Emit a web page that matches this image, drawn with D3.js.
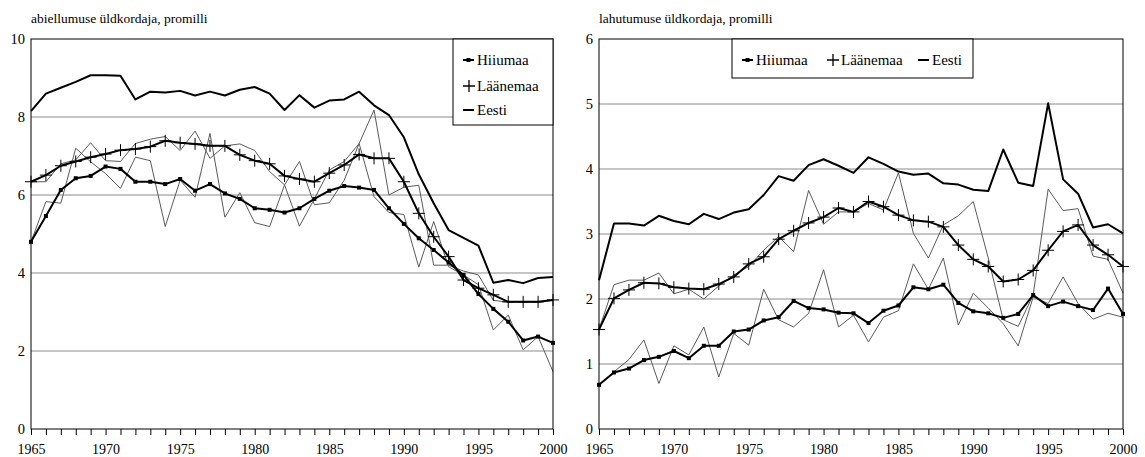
<!DOCTYPE html>
<html>
<head>
<meta charset="utf-8">
<script src="https://cdn.jsdelivr.net/npm/d3@7"></script>
<style>
  body { margin: 0; background: #fff; }
  svg text { font-family: "Liberation Serif", "Times New Roman", Tinos, "Nimbus Roman", "DejaVu Serif", serif; }
</style>
</head>
<body>
<svg id="chart" width="1145" height="457"></svg>
<script>
const years = [1965, 1966, 1967, 1968, 1969, 1970, 1971, 1972, 1973, 1974, 1975, 1976,
  1977, 1978, 1979, 1980, 1981, 1982, 1983, 1984, 1985, 1986, 1987, 1988,
  1989, 1990, 1991, 1992, 1993, 1994, 1995, 1996, 1997, 1998, 1999, 2000];
const xTickLabels = [1965, 1970, 1975, 1980, 1985, 1990, 1995, 2000];

// abiellumuse üldkordaja
const marEesti = [8.15, 8.6, 8.75, 8.9, 9.07, 9.07, 9.06, 8.45, 8.65, 8.63, 8.67, 8.55, 8.65, 8.55, 8.7, 8.77, 8.6, 8.18,
  8.56, 8.24, 8.42, 8.45, 8.65, 8.3, 8.05, 7.48, 6.53, 5.79, 5.1, 4.9, 4.7, 3.75, 3.82, 3.74, 3.87, 3.9];
const marHiiumaa = [4.8, 5.46, 6.13, 6.43, 6.49, 6.73, 6.67, 6.34, 6.34, 6.28, 6.41, 6.11, 6.28, 6.04, 5.9, 5.66, 5.62, 5.55,
  5.66, 5.9, 6.11, 6.23, 6.19, 6.13, 5.66, 5.26, 4.89, 4.59, 4.27, 3.95, 3.46, 3.08, 2.75, 2.27, 2.37, 2.21];
const marHiiumaaRaw = [4.8, 5.83, 5.79, 7.2, 6.85, 6.55, 6.17, 6.97, 6.88, 5.19, 6.38, 5.94, 7.58, 5.43, 6.06, 5.29, 5.19, 6.26,
  6.86, 5.75, 5.8, 6.38, 7.32, 5.96, 5.55, 5.5, 4.15, 5.32, 4.16, 3.95, 3.7, 2.54, 2.92, 2.03, 2.37, 1.47];
const marLaanemaa = [6.34, 6.51, 6.75, 6.86, 6.97, 7.05, 7.15, 7.18, 7.24, 7.39, 7.34, 7.31, 7.26, 7.26, 7.03, 6.88, 6.8, 6.49,
  6.41, 6.34, 6.56, 6.77, 7.04, 6.94, 6.94, 6.34, 5.53, 4.93, 4.42, 3.82, 3.61, 3.44, 3.26, 3.26, 3.26, 3.31];
const marLaanemaaRaw = [6.34, 6.34, 6.8, 6.9, 7.34, 6.88, 6.86, 7.32, 7.43, 7.5, 7.14, 7.64, 6.94, 7.26, 7.31, 7.14, 6.6, 6.26,
  5.2, 5.9, 6.64, 6.86, 7.32, 8.18, 6.0, 6.2, 6.25, 4.2, 4.2, 4.05, 3.95, 3.3, 3.25, 3.25, 3.25, 3.3];

// lahutumuse üldkordaja
const divEesti = [2.29, 3.16, 3.16, 3.13, 3.28, 3.2, 3.15, 3.31, 3.23, 3.33, 3.38, 3.6, 3.89, 3.82, 4.06, 4.15, 4.05, 3.94,
  4.18, 4.08, 3.96, 3.91, 3.93, 3.78, 3.76, 3.68, 3.66, 4.3, 3.79, 3.74, 5.01, 3.84, 3.62, 3.1, 3.15, 3.01];
const divHiiumaa = [0.68, 0.87, 0.93, 1.06, 1.11, 1.2, 1.09, 1.28, 1.28, 1.5, 1.53, 1.67, 1.72, 1.97, 1.86, 1.84, 1.79, 1.78,
  1.63, 1.82, 1.9, 2.18, 2.15, 2.22, 1.94, 1.81, 1.78, 1.71, 1.77, 2.06, 1.89, 1.96, 1.89, 1.83, 2.16, 1.77];
const divHiiumaaRaw = [0.68, 0.88, 1.07, 1.37, 0.7, 1.28, 1.14, 1.57, 0.8, 1.47, 1.29, 2.15, 1.68, 1.57, 1.78, 2.45, 1.57, 1.75,
  1.34, 1.72, 1.82, 2.54, 2.15, 2.63, 1.6, 2.09, 1.86, 1.62, 1.28, 2.03, 1.93, 2.34, 1.93, 1.69, 1.78, 1.72];
const divLaanemaa = [1.53, 2.01, 2.14, 2.25, 2.24, 2.18, 2.16, 2.15, 2.23, 2.34, 2.54, 2.65, 2.92, 3.05, 3.17, 3.26, 3.4, 3.34,
  3.5, 3.42, 3.29, 3.21, 3.19, 3.11, 2.83, 2.61, 2.5, 2.27, 2.3, 2.44, 2.75, 3.04, 3.14, 2.83, 2.68, 2.5];
const divLaanemaaRaw = [1.53, 2.22, 2.29, 2.29, 2.4, 2.08, 2.15, 2.0, 2.2, 2.37, 2.5, 2.75, 2.96, 2.73, 3.67, 3.15, 3.34, 3.34,
  3.47, 3.37, 3.94, 3.01, 2.63, 3.14, 3.28, 3.5, 2.63, 1.68, 1.58, 2.06, 3.69, 3.36, 3.39, 2.66, 2.61, 2.09];

const legendNames = ['Hiiumaa', 'Läänemaa', 'Eesti'];
const serif = '"Liberation Serif", "Times New Roman", Tinos, "Nimbus Roman", "DejaVu Serif", serif';

const svg = d3.select('#chart');

const panels = [
  {
    title: 'abiellumuse üldkordaja, promilli',
    left: 31, right: 553, top: 39, bottom: 429,
    yMax: 10, yTicks: [0, 2, 4, 6, 8, 10],
    eesti: marEesti, hiiumaa: marHiiumaa, hiiumaaRaw: marHiiumaaRaw,
    laanemaa: marLaanemaa, laanemaaRaw: marLaanemaaRaw,
    legend: { x: 453, y: 39, w: 100, h: 86, items: [[463, 60, 477], [463, 86, 477], [463, 110, 477]] }
  },
  {
    title: 'lahutumuse üldkordaja, promilli',
    left: 599, right: 1123, top: 39, bottom: 429,
    yMax: 6, yTicks: [0, 1, 2, 3, 4, 5, 6],
    eesti: divEesti, hiiumaa: divHiiumaa, hiiumaaRaw: divHiiumaaRaw,
    laanemaa: divLaanemaa, laanemaaRaw: divLaanemaaRaw,
    legend: { x: 732, y: 39, w: 241, h: 39, items: [[742, 60, 756], [827, 60, 841], [918, 60, 932]] }
  }
];

function plusPath(cx, cy, r) {
  return `M${cx - r},${cy}H${cx + r}M${cx},${cy - r}V${cy + r}`;
}

panels.forEach(p => {
  const x = d3.scaleLinear().domain([1965, 2000]).range([p.left, p.right]);
  const y = d3.scaleLinear().domain([0, p.yMax]).range([p.bottom, p.top]);
  const g = svg.append('g');

  g.append('text')
    .attr('x', p.left)
    .attr('y', 23)
    .attr('font-family', serif)
    .attr('font-size', 13.5)
    .text(p.title);

  // ruudustik
  g.append('g').selectAll('line')
    .data(p.yTicks.filter(v => v > 0 && v < p.yMax))
    .join('line')
    .attr('x1', p.left).attr('x2', p.right)
    .attr('y1', d => y(d)).attr('y2', d => y(d))
    .attr('stroke', '#8a8a8a')
    .attr('stroke-width', 1);

  const xAxis = d3.axisBottom(x)
    .tickValues(years)
    .tickSize(6)
    .tickPadding(9)
    .tickFormat(d => xTickLabels.includes(d) ? String(d) : '');

  const xg = g.append('g')
    .attr('transform', `translate(0,${p.bottom})`)
    .call(xAxis);
  xg.attr('font-family', serif);
  xg.select('.domain').remove();
  xg.selectAll('line').attr('stroke', '#000');
  xg.selectAll('text').attr('font-size', 14).attr('fill', '#000');

  const yAxis = d3.axisLeft(y).tickValues(p.yTicks).tickSize(0).tickPadding(6).tickFormat(d3.format('d'));
  const yg = g.append('g')
    .attr('transform', `translate(${p.left},0)`)
    .call(yAxis);
  yg.attr('font-family', serif);
  yg.select('.domain').remove();
  yg.selectAll('text').attr('font-size', 14.5).attr('fill', '#000');

  const line = d3.line().x((d, i) => x(years[i])).y(d => y(d));

  // aastased väärtused
  [p.hiiumaaRaw, p.laanemaaRaw].forEach(s => {
    g.append('path').datum(s)
      .attr('d', line)
      .attr('fill', 'none')
      .attr('stroke', '#5a5a5a')
      .attr('stroke-width', 1);
  });

  [p.eesti, p.laanemaa, p.hiiumaa].forEach(s => {
    g.append('path').datum(s)
      .attr('d', line)
      .attr('fill', 'none')
      .attr('stroke', '#000')
      .attr('stroke-width', 2)
      .attr('stroke-linejoin', 'round');
  });

  g.append('g').selectAll('path')
    .data(p.laanemaa)
    .join('path')
    .attr('d', (d, i) => plusPath(x(years[i]), y(d), 6))
    .attr('stroke', '#000')
    .attr('stroke-width', 1);

  g.append('g').selectAll('rect')
    .data(p.hiiumaa)
    .join('rect')
    .attr('x', (d, i) => x(years[i]) - 2)
    .attr('y', d => y(d) - 2)
    .attr('width', 4).attr('height', 4)
    .attr('fill', '#000');

  // raam
  g.append('rect')
    .attr('x', p.left).attr('y', p.top)
    .attr('width', p.right - p.left).attr('height', p.bottom - p.top)
    .attr('fill', 'none')
    .attr('stroke', '#000')
    .attr('stroke-width', 1);

  // legend
  const L = p.legend;
  const lg = g.append('g');
  lg.append('rect')
    .attr('x', L.x).attr('y', L.y).attr('width', L.w).attr('height', L.h)
    .attr('fill', '#fff').attr('stroke', '#000');

  L.items.forEach(([mx, my, tx], k) => {
    if (k === 0) {
      lg.append('line').attr('x1', mx).attr('x2', mx + 11).attr('y1', my).attr('y2', my)
        .attr('stroke', '#000').attr('stroke-width', 2);
      lg.append('rect').attr('x', mx + 3.5).attr('y', my - 2).attr('width', 4).attr('height', 4);
    } else if (k === 1) {
      lg.append('path').attr('d', plusPath(mx + 6, my, 6)).attr('stroke', '#000').attr('stroke-width', 1.3);
    } else {
      lg.append('line').attr('x1', mx).attr('x2', mx + 11).attr('y1', my).attr('y2', my)
        .attr('stroke', '#000').attr('stroke-width', 2);
    }
    lg.append('text')
      .attr('x', tx).attr('y', my)
      .attr('dy', '0.35em')
      .attr('font-family', serif)
      .attr('font-size', 15)
      .text(legendNames[k]);
  });
});
</script>
</body>
</html>
